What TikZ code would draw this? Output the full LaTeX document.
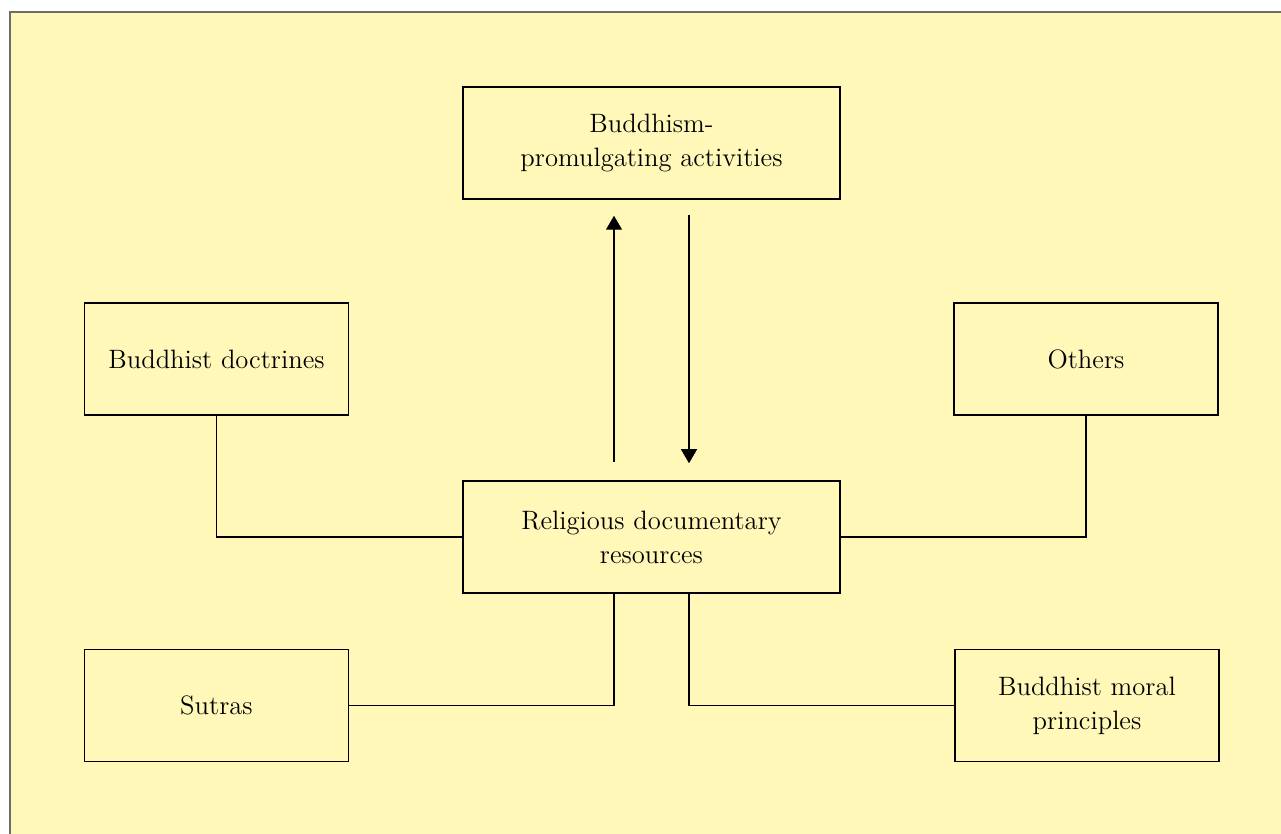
\documentclass[tikz,border=0pt]{standalone}
\usetikzlibrary{arrows.meta}
\definecolor{paper}{RGB}{255,248,185}
\definecolor{frame}{RGB}{108,108,108}
\begin{document}
\begin{tikzpicture}[x=0.5pt,y=-0.5pt]
    \tikzstyle{box}=[draw,line width=0.75pt,fill=paper,align=center,inner sep=0pt,
                     minimum height=56pt,font=\fontsize{13.3}{17}\selectfont]
    \tikzstyle{wide}=[box,minimum width=188.5pt]
    \tikzstyle{narrow}=[box,minimum width=132pt]
    \tikzstyle{link}=[line width=0.55pt]
    \tikzstyle{tip}=[link,-{Triangle[width=8pt,length=7pt]}]
    \useasboundingbox (0,0) rectangle (1281,834);
    \fill[white] (0,0) rectangle (1281,834);
    \fill[paper] (10,12) rectangle (1281,834);
    \draw[frame,line width=1.4pt] (10,834)--(10,12)--(1281,12);
    \draw node[wide](P)at(651.5,143){Buddhism-\\promulgating activities}
          node[wide](R)at(651.5,537){Religious documentary\\resources}
          node[narrow](D)at(216.5,359){Buddhist doctrines}
          node[narrow](O)at(1086,359){Others}
          node[narrow](S)at(216.5,705.5){Sutras}
          node[narrow](M)at(1087,705.5){Buddhist moral\\principles};
    \coordinate(l)at(614,0);
    \coordinate(r)at(689,0);
    \draw[tip,shorten <=9pt,shorten >=8pt](R.north-|l)--(P.south-|l);
    \draw[tip,shorten <=7.5pt,shorten >=8.5pt](P.south-|r)--(R.north-|r);
    \draw[link](D.south)|-(R.west);
    \draw[link](O.south)|-(R.east);
    \draw[link](S.east)-|(R.south-|l);
    \draw[link](M.west)-|(R.south-|r);
\end{tikzpicture}
\end{document}
